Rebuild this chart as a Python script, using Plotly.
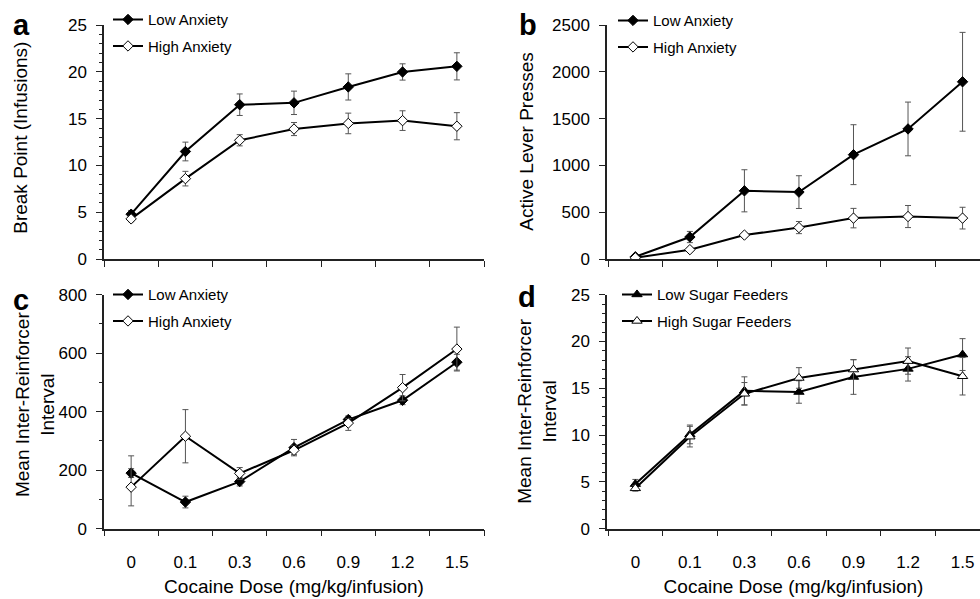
import plotly.graph_objects as go

doses = ["0", "0.1", "0.3", "0.6", "0.9", "1.2", "1.5"]

# Panel a: Break Point (Infusions)
a_low = [4.8, 11.5, 16.5, 16.7, 18.4, 20.0, 20.6]
a_low_err = [0.4, 1.0, 1.15, 1.25, 1.4, 0.87, 1.45]
a_high = [4.3, 8.6, 12.7, 13.9, 14.5, 14.8, 14.2]
a_high_err = [0.3, 0.78, 0.6, 0.7, 1.1, 1.05, 1.45]

# Panel b: Active Lever Presses
b_low = [25, 236, 730, 716, 1116, 1391, 1895]
b_low_err = [15, 60, 225, 175, 320, 287, 528]
b_high = [14, 101, 257, 337, 438, 455, 438]
b_high_err = [10, 15, 20, 65, 104, 118, 116]

# Panel c: Mean Inter-Reinforcer Interval (anxiety)
c_low = [190, 91, 161, 277, 373, 439, 569]
c_low_err = [15, 20, 15, 28, 12, 15, 27]
c_high = [142, 316, 189, 268, 361, 482, 614]
c_high_err_plus = [107, 91, 20, 15, 15, 45, 75]
c_high_err_minus = [64, 91, 20, 15, 25, 45, 75]

# Panel d: Mean Inter-Reinforcer Interval (sugar feeders)
d_low = [4.76, 10.07, 14.72, 14.6, 16.2, 17.07, 18.6]
d_low_err = [0.5, 1.0, 1.5, 1.2, 1.85, 1.3, 1.7]
d_high = [4.31, 9.83, 14.41, 16.1, 17.0, 17.9, 16.28]
d_high_err = [0.3, 1.1, 1.2, 1.1, 1.05, 1.4, 2.0]

FONT = "Liberation Sans, Arial, sans-serif"
W, H = 980, 599
AX = "#222222"
ERR = "#555555"


def px_x(p):
    return p / W


def px_y(p):
    return 1 - p / H


fig = go.Figure()


def add_series(xa, ya, leg, name, y, err, symbol, filled, errminus=None):
    ey = dict(type="data", array=err, color=ERR, thickness=1, width=3, visible=True)
    if errminus is not None:
        ey["symmetric"] = False
        ey["arrayminus"] = errminus
    fig.add_trace(go.Scatter(
        x=doses, y=y, name=name, mode="lines+markers",
        xaxis=xa, yaxis=ya, legend=leg, legendgroup=leg + name,
        line=dict(color="black", width=2),
        marker=dict(symbol=symbol, size=8 if "diamond" in symbol else 9,
                    color="black" if filled else "white",
                    line=dict(color="black", width=1)),
        error_y=ey,
    ))


add_series("x", "y", "legend", "Low Anxiety", a_low, a_low_err, "diamond", True)
add_series("x", "y", "legend", "High Anxiety", a_high, a_high_err, "diamond", False)
add_series("x2", "y2", "legend2", "Low Anxiety", b_low, b_low_err, "diamond", True)
add_series("x2", "y2", "legend2", "High Anxiety", b_high, b_high_err, "diamond", False)
add_series("x3", "y3", "legend3", "Low Anxiety", c_low, c_low_err, "diamond", True)
add_series("x3", "y3", "legend3", "High Anxiety", c_high, c_high_err_plus, "diamond", False,
           errminus=c_high_err_minus)
add_series("x4", "y4", "legend4", "Low Sugar Feeders", d_low, d_low_err, "triangle-up", True)
add_series("x4", "y4", "legend4", "High Sugar Feeders", d_high, d_high_err, "triangle-up", False)

left_dom = [px_x(104), px_x(484)]
right_dom = [px_x(607), 1.0]
top_dom = [px_y(258.3), px_y(16.7)]
bot_dom = [px_y(536.7), px_y(295)]

tickfont = dict(family=FONT, size=17, color="black")


def xaxis(dom, anchor, rng, labels):
    d = dict(domain=dom, anchor=anchor, type="category", range=rng,
             showline=True, linecolor=AX, linewidth=1.5, showgrid=False, zeroline=False,
             ticks="outside", ticklen=6, tickwidth=1.2, tickcolor=AX, tickson="boundaries",
             showticklabels=labels, tickfont=tickfont, ticklabelstandoff=17)
    if labels:
        d["title"] = dict(text="Cocaine Dose (mg/kg/infusion)", standoff=9,
                          font=dict(family=FONT, size=19, color="black"))
    return d


def yaxis(dom, anchor, rng, dtick, minor):
    d = dict(domain=dom, anchor=anchor, range=rng, dtick=dtick,
             showline=True, linecolor=AX, linewidth=1.5, showgrid=False, zeroline=False,
             ticks="outside", ticklen=6, tickwidth=1.2, tickcolor=AX,
             tickfont=tickfont, ticklabelstandoff=6)
    if minor:
        d["minor"] = dict(dtick=minor, ticks="outside", ticklen=3, tickwidth=1, tickcolor=AX,
                          showgrid=False)
    return d


legfont = dict(family=FONT, size=15, color="black")


def legend(xp, yp):
    return dict(x=px_x(xp), y=px_y(yp), xanchor="left", yanchor="top",
                bgcolor="rgba(0,0,0,0)", font=legfont, tracegroupgap=4,
                itemclick=False, itemdoubleclick=False)


fig.update_layout(
    width=W, height=H, margin=dict(l=0, r=0, t=0, b=0),
    paper_bgcolor="white", plot_bgcolor="white",
    font=dict(family=FONT, color="black"),
    xaxis=xaxis(left_dom, "y", [-0.5, 6.5], False),
    yaxis=yaxis(top_dom, "x", [0, 25], 5, 1),
    xaxis2=xaxis(right_dom, "y2", [-0.52, 6.32], False),
    yaxis2=yaxis(top_dom, "x2", [0, 2500], 500, None),
    xaxis3=xaxis(left_dom, "y3", [-0.5, 6.5], True),
    yaxis3=yaxis(bot_dom, "x3", [0, 800], 200, 100),
    xaxis4=xaxis(right_dom, "y4", [-0.52, 6.32], True),
    yaxis4=yaxis(bot_dom, "x4", [0, 25], 5, 1),
    legend=legend(108, -6),
    legend2=legend(613, -5),
    legend3=legend(108, 278),
    legend4=legend(617, 278),
    showlegend=True,
)

annots = [
    ("a", 21, 17),
    ("b", 528, 17),
    ("c", 21, 301),
    ("d", 527, 297),
]
for t, xp, yp in annots:
    fig.add_annotation(text=t, x=px_x(xp), y=px_y(yp), xref="paper", yref="paper",
                       showarrow=False, xanchor="center", yanchor="middle",
                       font=dict(family=FONT, size=29, color="black", weight="bold"))

ytitles = [
    ("Break Point (Infusions)", 21, 133),
    ("Active Lever Presses", 527, 137),
    ("Mean Inter-Reinforcer<br>Interval", 35, 409),
    ("Mean Inter-Reinforcer<br>Interval", 537, 416),
]
for t, xp, yp in ytitles:
    fig.add_annotation(text=t, x=px_x(xp), y=px_y(yp), xref="paper", yref="paper",
                       showarrow=False, xanchor="center", yanchor="middle", textangle=-90,
                       font=dict(family=FONT, size=19, color="black"))

fig.write_html("out.html")
